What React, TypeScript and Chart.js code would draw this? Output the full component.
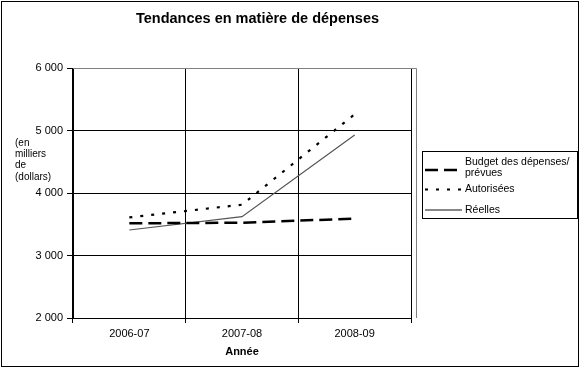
import React, { useEffect, useRef } from "react";
import { Chart, registerables } from "chart.js";

Chart.register(...registerables);

const categories = ["2006-07", "2007-08", "2008-09"];
const budget = [3515, 3525, 3590];
const autorisees = [3610, 3813, 5260];
const reelles = [3408, 3621, 4928];
const seriesNames = ["Budget des dépenses/\nprévues", "Autorisées", "Réelles"];
const titleText = "Tendances en matière de dépenses";
const yTitleLines = ["(en", "milliers", "de", "(dollars)"];
const xTitleText = "Année";

const FONT = "'Liberation Sans', Arial, sans-serif";

const decorPlugin = {
  id: "decor",
  afterDraw(chart: any) {
    const ctx = chart.ctx;
    const area = chart.chartArea;
    ctx.save();
    // outer border
    ctx.strokeStyle = "#000";
    ctx.lineWidth = 1;
    ctx.strokeRect(1.5, 1.5, 577, 365);
    // plot area gray border (right side)
    ctx.strokeStyle = "#808080";
    ctx.beginPath();
    ctx.moveTo(area.left, area.top + 0.5);
    ctx.lineTo(area.right + 5.5, area.top + 0.5);
    ctx.lineTo(area.right + 5.5, area.bottom);
    ctx.stroke();
    // title
    ctx.fillStyle = "#000";
    ctx.font = "bold 14.5px " + FONT;
    ctx.textAlign = "center";
    ctx.textBaseline = "middle";
    ctx.fillText(titleText, 257.5, 18.5);
    // y axis title
    ctx.font = "10px " + FONT;
    ctx.textAlign = "left";
    yTitleLines.forEach((l, i) => ctx.fillText(l, 15, 143 + i * 11.3));
    // legend
    const bx = 422.5, by = 151.5, bw = 155, bh = 67;
    ctx.strokeStyle = "#000";
    ctx.lineWidth = 1;
    ctx.strokeRect(bx, by, bw, bh);
    const rows = [170, 189.5, 210];
    chart.data.datasets.forEach((ds: any, i: number) => {
      const y = rows[i];
      ctx.save();
      ctx.strokeStyle = i === 2 ? "#888" : ds.borderColor;
      ctx.lineWidth = i === 2 ? 2 : ds.borderWidth;
      ctx.setLineDash(ds.borderDash || []);
      ctx.beginPath();
      ctx.moveTo(425, y);
      ctx.lineTo(462, y);
      ctx.stroke();
      ctx.restore();
      ctx.fillStyle = "#000";
      ctx.font = "10.5px " + FONT;
      ctx.textAlign = "left";
      ctx.textBaseline = "middle";
      const lines = String(ds.label).split("\n");
      if (lines.length === 2) {
        ctx.fillText(lines[0], 465, y - 8);
        ctx.fillText(lines[1], 465, y + 3.5);
      } else {
        ctx.fillText(lines[0], 465, y);
      }
    });
    ctx.restore();
  },
};

export default function App() {
  const ref = useRef<HTMLCanvasElement>(null);
  useEffect(() => {
    if (!ref.current) return;
    const chart = new Chart(ref.current, {
      type: "line",
      data: {
        labels: categories,
        datasets: [
          {
            label: seriesNames[0],
            data: budget,
            borderColor: "#000",
            borderWidth: 2.5,
            borderDash: [13, 6],
            pointRadius: 0,
            tension: 0,
          },
          {
            label: seriesNames[1],
            data: autorisees,
            borderColor: "#000",
            borderWidth: 2.2,
            borderDash: [3, 8],
            pointRadius: 0,
            tension: 0,
          },
          {
            label: seriesNames[2],
            data: reelles,
            borderColor: "#555",
            borderWidth: 1.2,
            pointRadius: 0,
            tension: 0,
          },
        ],
      },
      options: {
        responsive: false,
        animation: false,
        devicePixelRatio: 1,
        layout: { padding: { left: 0, top: 68, right: 173, bottom: 0 } },
        plugins: {
          legend: { display: false },
          title: { display: false },
          tooltip: { enabled: false },
        },
        scales: {
          x: {
            offset: true,
            grid: {
              offset: true,
              color: "#000",
              tickColor: "#000",
              tickLength: 5,
              lineWidth: 1,
            },
            border: { color: "#000" },
            ticks: {
              color: "#000",
              font: { family: FONT, size: 11 },
              padding: 4,
              maxRotation: 0,
            },
            title: {
              display: true,
              text: xTitleText,
              color: "#000",
              font: { family: FONT, size: 11, weight: "bold" },
              padding: { top: 0, bottom: 10 },
            },
            afterFit(scale: any) {
              scale.height = 51;
            },
          },
          y: {
            min: 2000,
            max: 6000,
            grid: {
              color: (c: any) => (c.tick && c.tick.value === 6000 ? "#808080" : "#000"),
              tickColor: "#000",
              tickLength: 6,
              lineWidth: 1,
            },
            border: { color: "#000" },
            ticks: {
              stepSize: 1000,
              color: "#000",
              font: { family: FONT, size: 11 },
              padding: 4,
              callback: (v: any) => {
                const s = String(v);
                return s.length > 3 ? s.slice(0, s.length - 3) + " " + s.slice(-3) : s;
              },
            },
            afterFit(scale: any) {
              scale.width = 73;
            },
          },
        },
      },
      plugins: [decorPlugin],
    });
    return () => chart.destroy();
  }, []);
  return (
    <div style={{ position: "fixed", left: 0, top: 0, width: 584, height: 369, background: "#fff" }}>
      <canvas ref={ref} width={584} height={369} style={{ width: 584, height: 369, display: "block" }} />
    </div>
  );
}
